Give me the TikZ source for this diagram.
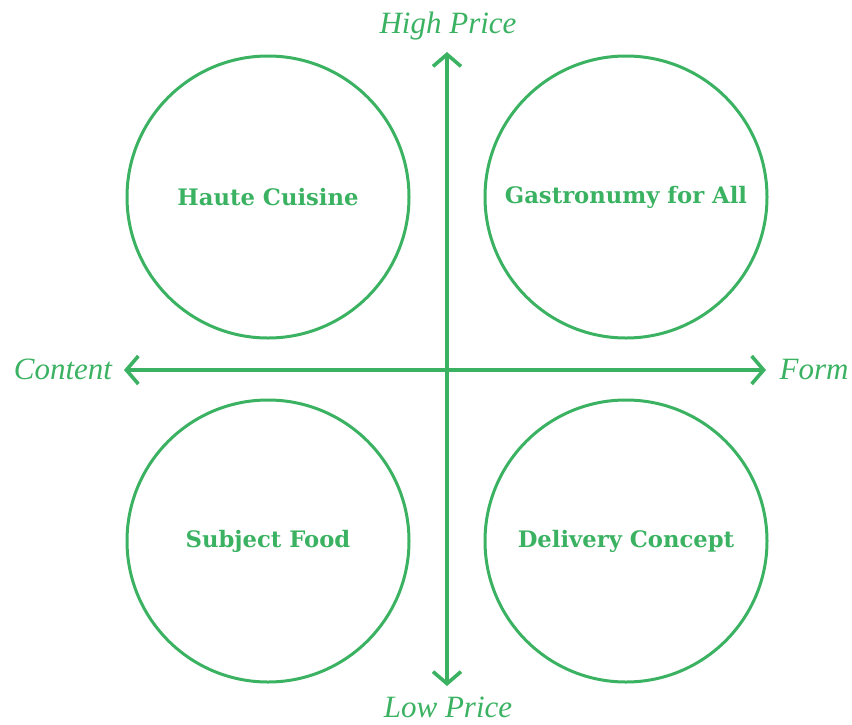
\documentclass[tikz,border=0pt]{standalone}
\usepackage{fontspec}
\setmainfont{Liberation Serif}
\newfontfamily\boldlab{DejaVu Serif}
\usetikzlibrary{arrows.meta}
\definecolor{grn}{RGB}{58,178,98}
\begin{document}
\begin{tikzpicture}[x=1pt,y=-1pt,
  quad/.style={circle,draw=grn,line width=3pt,minimum size=282pt,inner sep=0pt,
    text=grn,font=\boldlab\bfseries\fontsize{22.7}{26}\selectfont},
  axis/.style={draw=grn,line width=3.6pt,{Straight Barb[length=12pt,width=28pt,line width=3.6pt]}-{Straight Barb[length=12pt,width=28pt,line width=3.6pt]}},
  lab/.style={text=grn,font=\itshape\fontsize{31}{35}\selectfont,inner sep=0pt}]
\useasboundingbox (0,0) rectangle (852,724);
\node[quad] (hc) at (268,197) {Haute Cuisine};
\node[quad] (ga) at (626,197) {Gastronumy for All};
\node[quad] (sf) at (268,541) {Subject Food};
\node[quad] (dc) at (626,541) {Delivery Concept};
\coordinate (top) at (447,52);
\coordinate (bot) at (447,686);
\coordinate (lft) at (124,370);
\coordinate (rgt) at (766,370);
\draw[axis] (top) -- (bot);
\draw[axis] (lft) -- (rgt);
\node[lab] (hp) at (448,26) {High Price};
\node[lab] (lp) at (448,707) {Low Price};
\node[lab] (ct) at (63,369) {Content};
\node[lab] (fm) at (814,369) {Form};
\end{tikzpicture}
\end{document}
